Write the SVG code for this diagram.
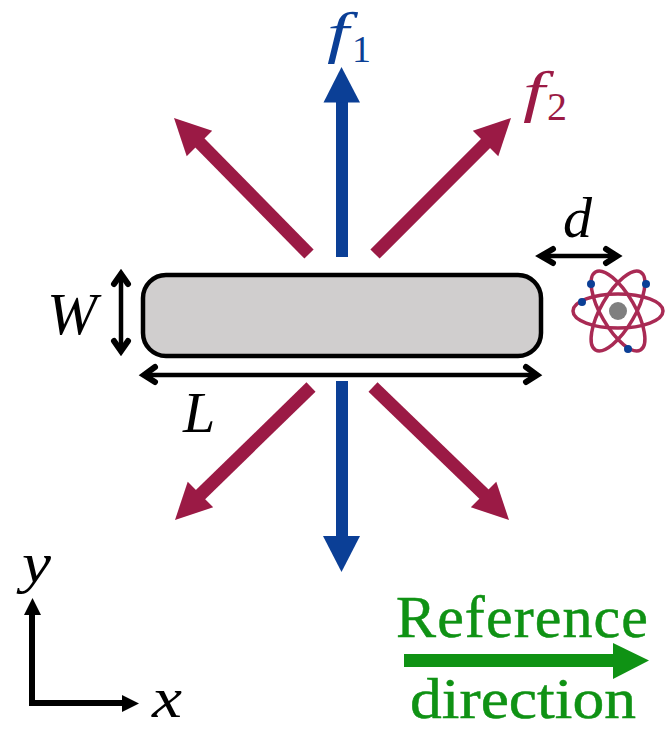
<svg xmlns="http://www.w3.org/2000/svg" width="665" height="730" viewBox="0 0 665 730">
<style>
text{font-family:"Liberation Serif",serif}
.m{font-style:italic}
.k{fill:#000}
.b{fill:#0b3f96}
.r{fill:#9b1a45}
.g{fill:#0f9214;stroke:#0f9214;stroke-width:.5}
.red{stroke:#9b1a45;stroke-width:13;fill:none}
.dim{stroke:#000;stroke-width:4.5;fill:none}
.hd{stroke:#000;stroke-width:6;fill:none;stroke-linecap:round;stroke-linejoin:miter}
.ax{stroke:#000;stroke-width:6;fill:none}
.orb{fill:none;stroke:#a92a54;stroke-width:3.5}
</style>
<defs>
<path id="rh" d="M0 0L-36 -18L-36 18Z" class="r"/>
</defs>
<rect width="665" height="730" fill="#fff"/>
<g id="connectors">
<g id="f1-arrows">
<rect class="b" x="336" y="100" width="12" height="157"/>
<path class="b" d="M341.5 67L360 102.500L323.500 102.500Z"/>
<rect class="b" x="336" y="381" width="12" height="156"/>
<path class="b" d="M341.500 572L323 536L360 536Z"/>
</g>
<g id="f2-arrows">
<path class="red" d="M375 254L490 139"/>
<use href="#rh" transform="translate(511 118) rotate(-45)"/>
<path class="red" d="M309 254L196 139"/>
<use href="#rh" transform="translate(174 118) rotate(-135)"/>
<path class="red" d="M311 387L196 499"/>
<use href="#rh" transform="translate(175 520) rotate(135)"/>
<path class="red" d="M373 387L488 498"/>
<use href="#rh" transform="translate(509 520) rotate(45)"/>
</g>
<g id="dimensions">
<path class="dim" d="M121 275V351"/>
<path class="hd" d="M114 284L121 274L128 284M114 341L121 351L128 341"/>
<path class="dim" d="M144 375H537"/>
<path class="hd" d="M155 367L144 375L155 382M526 367L537 375L526 382"/>
<path class="dim" d="M542 256H615"/>
<path class="hd" d="M553 249L541 256L553 263M606 249L617 256L606 263"/>
</g>
<g id="axes">
<path class="ax" d="M32 611V703H128"/>
<path class="k" d="M32.500 598L41 615H24Z"/>
<path class="k" d="M139 703.500L122 695V712Z"/>
</g>
<g id="reference-arrow">
<rect x="404" y="654" width="210" height="13" fill="#0f9214"/>
<path d="M649 660.500L613 643V679Z" fill="#0f9214"/>
</g>
</g>
<g id="bar">
<rect x="143" y="275" width="398" height="81" rx="23" fill="#d0cece" stroke="#000" stroke-width="4.500"/>
</g>
<g id="atom">
<ellipse class="orb" cx="618" cy="311" rx="45" ry="17"/>
<ellipse class="orb" cx="618" cy="311" rx="45" ry="17" transform="rotate(60 618 311)"/>
<ellipse class="orb" cx="618" cy="311" rx="45" ry="17" transform="rotate(120 618 311)"/>
<circle cx="618" cy="311" r="9" fill="#7f7f7f"/>
<circle cx="591" cy="284" r="4" fill="#0b3f96"/>
<circle cx="646" cy="284" r="4" fill="#0b3f96"/>
<circle cx="582" cy="302" r="4" fill="#0b3f96"/>
<circle cx="628" cy="349" r="4" fill="#0b3f96"/>
</g>
<g id="labels">
<text class="m b" x="327" y="52" font-size="58" textLength="22" lengthAdjust="spacingAndGlyphs">f</text>
<text class="b" x="352" y="62" font-size="38">1</text>
<text class="m r" x="523" y="111" font-size="58" textLength="22" lengthAdjust="spacingAndGlyphs">f</text>
<text class="r" x="547" y="120" font-size="40">2</text>
<text class="m k" x="563" y="237" font-size="58">d</text>
<text class="m k" x="47" y="334" font-size="60">W</text>
<text class="m k" x="183" y="432" font-size="58">L</text>
<text class="m k" x="22" y="582" font-size="56" textLength="29" lengthAdjust="spacingAndGlyphs">y</text>
<text class="m k" x="152" y="717" font-size="58" textLength="30" lengthAdjust="spacingAndGlyphs">x</text>
<text class="g" x="396" y="637" font-size="60" textLength="252">Reference</text>
<text class="g" x="410" y="717.500" font-size="57" textLength="226" lengthAdjust="spacingAndGlyphs">direction</text>
</g>
</svg>
